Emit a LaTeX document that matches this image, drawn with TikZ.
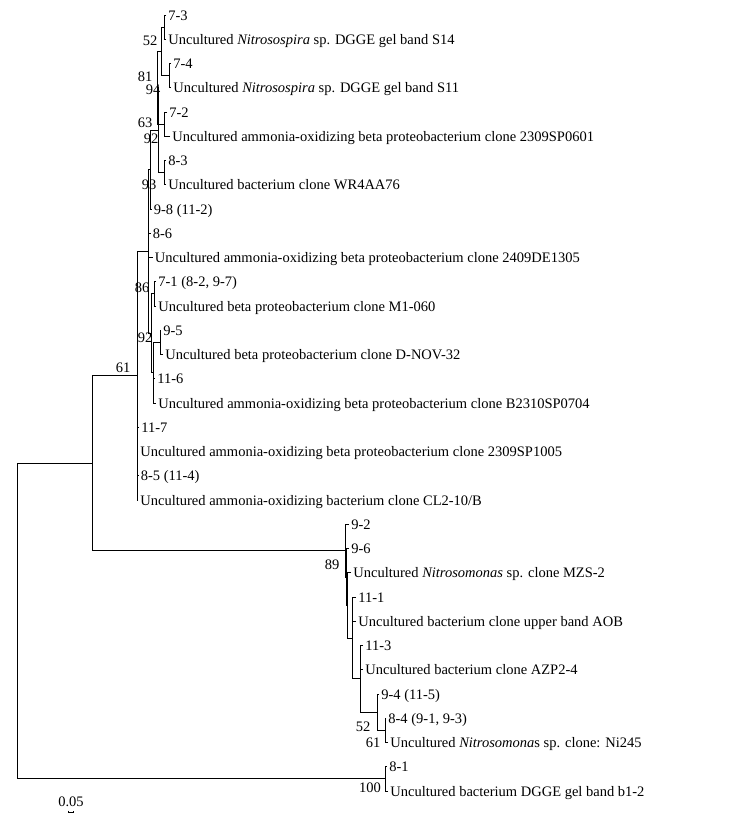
\documentclass[tikz,border=0pt]{standalone}
\usepackage{fontspec}
\setmainfont{Liberation Serif}
\newcommand{\leaf}[4]{\coordinate (#1) at (#2,#3); \node[lf] (#1t) at (#1) {#4};}
\begin{document}
\begin{tikzpicture}[x=1pt,y=-1pt,line width=0.8pt,
  lf/.style={anchor=base west,inner sep=0pt,xshift=2pt,yshift=-5pt,font=\fontsize{14.5}{17}\selectfont},
  bs/.style={anchor=center,inner sep=0pt,font=\fontsize{14.5}{17}\selectfont}]
\useasboundingbox (0,0) rectangle (735,828);
% leaves
\leaf{l1}{166}{15}{7-3}
\leaf{l2}{166}{39.25}{Uncultured \textit{Nitrosospira} sp. DGGE gel band S14}
\leaf{l3}{171}{63.5}{7-4}
\leaf{l4}{171}{87.75}{Uncultured \textit{Nitrosospira} sp. DGGE gel band S11}
\leaf{l5}{167}{112}{7-2}
\leaf{l6}{170}{136.25}{Uncultured ammonia-oxidizing beta proteobacterium clone 2309SP0601}
\leaf{l7}{166}{160.5}{8-3}
\leaf{l8}{166}{184.75}{Uncultured bacterium clone WR4AA76}
\leaf{l9}{151.5}{209}{9-8 (11-2)}
\leaf{l10}{150.5}{233.25}{8-6}
\leaf{l11}{152.5}{257.5}{Uncultured ammonia-oxidizing beta proteobacterium clone 2409DE1305}
\leaf{l12}{156}{281.75}{7-1 (8-2, 9-7)}
\leaf{l13}{156}{306}{Uncultured beta proteobacterium clone M1-060}
\leaf{l14}{161}{330.25}{9-5}
\leaf{l15}{163}{354.5}{Uncultured beta proteobacterium clone D-NOV-32}
\leaf{l16}{155}{378.75}{11-6}
\leaf{l17}{156}{403}{Uncultured ammonia-oxidizing beta proteobacterium clone B2310SP0704}
\leaf{l18}{139}{427.25}{11-7}
\leaf{l19}{138}{451.5}{Uncultured ammonia-oxidizing beta proteobacterium clone 2309SP1005}
\leaf{l20}{138.5}{475.75}{8-5 (11-4)}
\leaf{l21}{138}{500}{Uncultured ammonia-oxidizing bacterium clone CL2-10/B}
\leaf{l22}{349}{524.25}{9-2}
\leaf{l23}{349}{548.5}{9-6}
\leaf{l24}{351}{572.75}{Uncultured \textit{Nitrosomonas} sp. clone MZS-2}
\leaf{l25}{356}{597}{11-1}
\leaf{l26}{356}{621.25}{Uncultured bacterium clone upper band AOB}
\leaf{l27}{363}{645.5}{11-3}
\leaf{l28}{363}{669.75}{Uncultured bacterium clone AZP2-4}
\leaf{l29}{379}{694}{9-4 (11-5)}
\leaf{l30}{386}{718.25}{8-4 (9-1, 9-3)}
\leaf{l31}{388}{742.5}{Uncultured \textit{Nitrosomona}s sp. clone: Ni245}
\leaf{l32}{387}{766.75}{8-1}
\leaf{l33}{388}{791}{Uncultured bacterium DGGE gel band b1-2}
% internal nodes
\coordinate (A) at (164,27.125);
\coordinate (B) at (169,75.625);
\coordinate (AB) at (161.5,51.375);
\coordinate (C) at (164,124.125);
\coordinate (ABC) at (157.5,87.75);
\coordinate (W) at (164,172.625);
\coordinate (U) at (158.5,130.19);
\coordinate (T) at (150.5,169.59);
\coordinate (M) at (154.5,293.875);
\coordinate (D) at (160,342.375);
\coordinate (S2) at (153,372.69);
\coordinate (S) at (151,333.28);
\coordinate (X) at (148,251.44);
\coordinate (N1) at (137,375.72);
\coordinate (P4) at (385,730.375);
\coordinate (P3) at (377,712.19);
\coordinate (P2) at (360,678.84);
\coordinate (P) at (352.5,637.92);
\coordinate (Q) at (347.5,605.34);
\coordinate (Qp) at (346.5,576.92);
\coordinate (N2) at (345.5,550.58);
\coordinate (I) at (92,463.15);
\coordinate (O) at (385,778.875);
\coordinate (R) at (17,621);
% connectors
\foreach \c in {l1,l2} \draw (\c) -| (A);
\foreach \c in {l3,l4} \draw (\c) -| (B);
\foreach \c in {A,B} \draw (\c) -| (AB);
\foreach \c in {l5,l6} \draw (\c) -| (C);
\foreach \c in {AB,C} \draw (\c) -| (ABC);
\foreach \c in {l7,l8} \draw (\c) -| (W);
\foreach \c in {ABC,W} \draw (\c) -| (U);
\foreach \c in {U,l9} \draw (\c) -| (T);
\foreach \c in {l12,l13} \draw (\c) -| (M);
\foreach \c in {l14,l15} \draw (\c) -| (D);
\foreach \c in {D,l16,l17} \draw (\c) -| (S2);
\foreach \c in {M,S2} \draw (\c) -| (S);
\foreach \c in {T,l10,l11,S} \draw (\c) -| (X);
\foreach \c in {X,l18,l19,l20,l21} \draw (\c) -| (N1);
\foreach \c in {l30,l31} \draw (\c) -| (P4);
\foreach \c in {l29,P4} \draw (\c) -| (P3);
\foreach \c in {l27,l28,P3} \draw (\c) -| (P2);
\foreach \c in {l25,l26,P2} \draw (\c) -| (P);
\foreach \c in {l24,P} \draw (\c) -| (Q);
\foreach \c in {l23,Q} \draw (\c) -| (Qp);
\foreach \c in {l22,Qp} \draw (\c) -| (N2);
\foreach \c in {N1,N2} \draw (\c) -| (I);
\foreach \c in {l32,l33} \draw (\c) -| (O);
\foreach \c in {I,O} \draw (\c) -| (R);
% bootstrap values
\node[bs] (b1) at (150,41) {52};
\node[bs] (b2) at (145,77) {81};
\node[bs] (b3) at (153,90) {94};
\node[bs] (b4) at (145,123) {63};
\node[bs] (b5) at (151,139) {92};
\node[bs] (b6) at (149,185) {93};
\node[bs] (b7) at (142,288) {86};
\node[bs] (b8) at (145,338) {92};
\node[bs] (b9) at (123,368) {61};
\node[bs] (b10) at (332,565) {89};
\node[bs] (b11) at (363,727) {52};
\node[bs] (b12) at (373,743) {61};
\node[bs] (b13) at (370,788) {100};
% scale bar
\node[bs] (sc) at (71,802) {0.05};
\coordinate (s1) at (68.5,812.5);
\coordinate (s2) at (73.5,812.5);
\draw[line width=0.6pt] ([yshift=2pt]s1) -- (s1) -- (s2) -- ([yshift=2pt]s2);
\end{tikzpicture}
\end{document}
